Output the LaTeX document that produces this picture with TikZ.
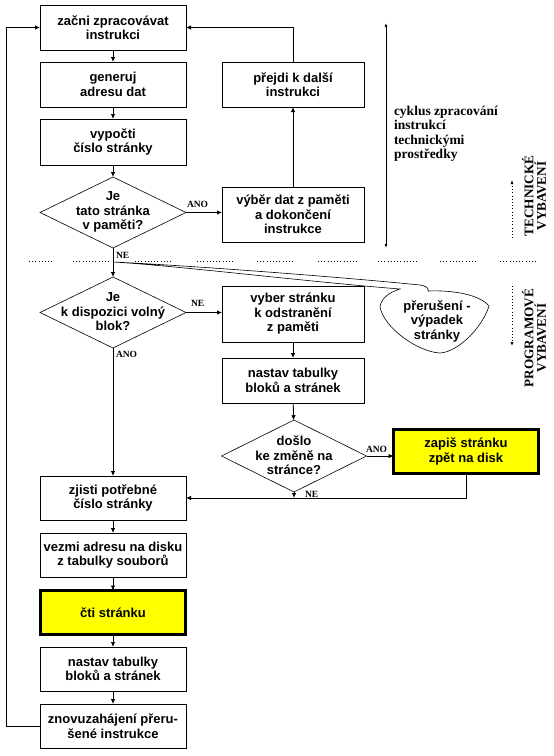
\documentclass[tikz,border=0pt]{standalone}
\usepackage{fontspec}
\setmainfont{Liberation Sans}
\newfontfamily\tnr{Liberation Serif}
\usetikzlibrary{shapes.geometric,arrows.meta}
\definecolor{hiyellow}{RGB}{255,255,0}
\begin{document}
\begin{tikzpicture}[x=1pt,y=-1pt,
  every node/.style={inner sep=0pt, outer sep=0pt},
  ln/.style={line width=0.8pt},
  arr/.style={ln,-{Latex[length=5pt,width=4.5pt]}},
  box/.style={draw,ln,minimum width=146pt,minimum height=45pt,align=center,
    font=\fontsize{13}{14.5}\selectfont\bfseries},
  rbox/.style={box,minimum width=142pt},
  hot/.style={fill=hiyellow,line width=3pt},
  dia/.style={draw,line width=0.6pt,shape=diamond,minimum width=146pt,minimum height=71pt},
  diatext/.style={align=center,font=\fontsize{13}{14.5}\selectfont\bfseries},
  lab/.style={font=\tnr\bfseries\fontsize{9.5}{10}\selectfont},
  sidetext/.style={align=left,font=\tnr\bfseries\fontsize{13.5}{14.5}\selectfont},
  vlabel/.style={align=center,rotate=90,font=\tnr\bfseries\fontsize{13.2}{12.5}\selectfont},
  dotline/.style={line width=0.8pt,dash pattern=on 0.8pt off 2.4pt},
  smallarr/.style={-{Latex[length=4pt,width=3pt]}}
]
\useasboundingbox (0,0) rectangle (554,756);

% left column
\node[box] (b1) at (113,27.5) {začni zpracovávat\\instrukci};
\node[box] (gen) at (113,84.5) {generuj\\adresu dat};
\node[box,minimum height=46pt] (vyp) at (113,142) {vypočti\\číslo stránky};
\node[dia] (d1) at (113,212.5) {};
\node[diatext] (d1t) at (113,212) {Je\\tato stránka\\v paměti?};
\node[dia] (d2) at (113,312.5) {};
\node[diatext] (d2t) at (113,312) {Je\\k dispozici volný\\blok?};
\node[box,minimum height=44pt] (zj) at (113,498) {zjisti potřebné\\číslo stránky};
\node[box,minimum height=44pt] (vez) at (113,555) {vezmi adresu na disku\\z tabulky souborů};
\node[box,hot,minimum width=145pt,minimum height=44pt] (cti) at (113,612.5) {čti stránku};
\node[box,minimum height=44pt] (nas2) at (113,669) {nastav tabulky\\bloků a stránek};
\node[box,minimum height=44pt] (znov) at (113,726) {znovuzahájení přeru-\\šené instrukce};

% right column
\node[rbox] (prej) at (293,84.5) {přejdi k další\\instrukci};
\node[rbox,minimum height=55pt] (vdat) at (293,214.5) {výběr dat z paměti\\a dokončení\\instrukce};
\node[rbox,minimum height=56pt] (vyb) at (293,314) {vyber stránku\\k odstranění\\z paměti};
\node[rbox] (nas1) at (293,380.5) {nastav tabulky\\bloků a stránek};
\node[dia,minimum width=145pt,minimum height=72pt] (d3) at (294,456) {};
\node[diatext] (d3t) at (294,455.5) {došlo\\ke změně na\\stránce?};
\node[box,hot,minimum width=145pt,minimum height=44pt] (zap) at (466,451.5) {zapiš stránku\\zpět na disk};

% connectors
\draw[arr] (b1) -- (gen);
\draw[arr] (gen) -- (vyp);
\draw[arr] (vyp) -- (d1);
\draw[arr] (d1) -- (d2);
\draw[arr] (d1.east) -- (d1.east -| vdat.west);
\draw[arr] (vdat) -- (prej);
\draw[arr] (prej.north) |- (b1.east);
\draw[arr] (d2.east) -- (d2.east -| vyb.west);
\draw[arr] (vyb) -- (nas1);
\draw[arr] (nas1) -- (d3);
\draw[arr] (d3.east) -- (d3.east -| zap.west);
\draw[arr] (zap.south) |- (zj.east);
\draw[arr] (d3.south) -- (d3.south |- zj.east);
\draw[arr] (d2) -- (zj);
\draw[arr] (zj) -- (vez);
\draw[arr] (vez) -- (cti);
\draw[arr] (cti) -- (nas2);
\draw[arr] (nas2) -- (znov);
\coordinate (lp) at (6,0);
\draw[arr] (znov.west) -- (znov.west -| lp) |- (b1.west);

% branch labels
\node[lab,anchor=south west] (l1) at (187,208) {ANO};
\node[lab,anchor=west] (l2) at (116,255) {NE};
\node[lab,anchor=west] (l3) at (191,303) {NE};
\node[lab,anchor=west] (l4) at (116,354) {ANO};
\node[lab,anchor=west] (l5) at (366,449) {ANO};
\node[lab,anchor=west] (l6) at (305,494) {NE};

% separator
\foreach \a/\b in {29/53,73/110,135/172,197/233,257/295,318/357,378/417,440/478,500/537}
  \draw[dotline] (\a,261) -- (\b,261);

% right side bracket and text
\coordinate (bt) at (386,23);
\coordinate (bb) at (386,248);
\draw[ln,{Latex[length=4pt,width=3pt]}-{Latex[length=4pt,width=3pt]}] (bt) -- (bb);
\node[sidetext,anchor=north west] (cyk) at (394,106) {cyklus zpracování\\instrukcí\\technickými\\prostředky};

\node[vlabel] (tech) at (534,196) {TECHNICKÉ\\VYBAVENÍ};
\coordinate (ta) at (512,238);
\coordinate (tb) at (512,180);
\draw[dotline,smallarr] (ta) -- (tb);
\node[vlabel] (prog) at (534,338) {PROGRAMOVÉ\\VYBAVENÍ};
\coordinate (pa) at (512,286);
\coordinate (pb) at (512,346);
\draw[dotline,smallarr] (pa) -- (pb);

% callout
\coordinate (nept) at (113,262);
\draw[line width=0.6pt] (428,291) .. controls (455,290) and (480,295) .. (489,306)
  .. controls (482,328) and (458,352) .. (440,353)
  .. controls (418,352) and (384,328) .. (380,307)
  .. controls (381,298) and (390,292) .. (400,289)
  .. controls (300,281) and (180,266) .. (nept)
  .. controls (180,265) and (330,276) .. (420,285)
  .. controls (426,286) and (429,288) .. (428,291) -- cycle;
\node[diatext] (clt) at (437,321) {přerušení -\\výpadek\\stránky};
\end{tikzpicture}
\end{document}
